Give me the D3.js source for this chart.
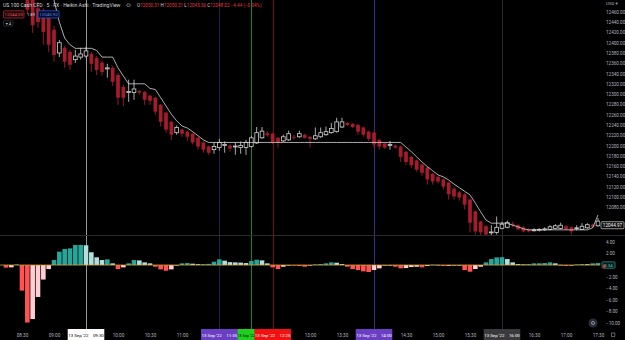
<!DOCTYPE html>
<html>
<head>
<meta charset="utf-8">
<script src="https://cdn.jsdelivr.net/npm/d3@7"></script>
<style>
  html, body { margin: 0; padding: 0; background: #000; }
  svg { display: block; }
  text { font-family: Roboto, "DejaVu Sans", sans-serif; }
</style>
</head>
<body>
<svg id="chart" width="625" height="340"></svg>
<script>
// Heikin Ashi 5 min candles, first one at 08:35
const firstCandle = "08:35";
const candleOpen = [12506, 12491, 12467, 12460, 12448, 12425, 12380, 12390, 12382, 12367, 12372, 12374, 12378, 12370, 12361, 12349, 12351, 12337, 12314, 12304,
  12303, 12306, 12304, 12297, 12293, 12279, 12264, 12246, 12225, 12231, 12227, 12223, 12215, 12206, 12198, 12192, 12196, 12201, 12200, 12198,
  12196, 12196, 12198, 12205, 12215, 12224, 12223, 12215, 12209, 12211, 12217, 12217, 12221, 12217, 12213, 12217, 12221, 12225, 12227, 12236,
  12244, 12242, 12240, 12235, 12227, 12225, 12211, 12204, 12201, 12200, 12198, 12188, 12178, 12171, 12163, 12157, 12145, 12139, 12134, 12128,
  12116, 12109, 12105, 12095, 12072, 12052, 12043, 12031, 12031, 12039, 12041, 12048, 12045, 12041, 12037, 12035, 12036, 12036, 12037, 12039,
  12039, 12043, 12041, 12039, 12037, 12040, 12046, 12044];
const candleHigh = [12512, 12499, 12479, 12467, 12456, 12433, 12405, 12394, 12386, 12386, 12390, 12392, 12382, 12374, 12365, 12359, 12355, 12341, 12318, 12328,
  12328, 12308, 12306, 12299, 12295, 12281, 12266, 12248, 12239, 12233, 12229, 12225, 12217, 12208, 12200, 12206, 12213, 12208, 12202, 12206,
  12208, 12211, 12219, 12236, 12236, 12228, 12225, 12217, 12221, 12229, 12221, 12229, 12223, 12219, 12235, 12235, 12237, 12244, 12254, 12254,
  12246, 12244, 12242, 12237, 12229, 12227, 12213, 12206, 12209, 12202, 12200, 12190, 12180, 12173, 12165, 12159, 12147, 12141, 12136, 12130,
  12118, 12111, 12107, 12097, 12074, 12054, 12045, 12045, 12062, 12052, 12054, 12052, 12047, 12043, 12039, 12039, 12039, 12041, 12045, 12047,
  12050, 12045, 12043, 12045, 12049, 12049, 12048, 12059];
const candleLow = [12456, 12419, 12429, 12396, 12382, 12363, 12372, 12351, 12347, 12361, 12367, 12370, 12343, 12337, 12336, 12332, 12316, 12279, 12277, 12285,
  12289, 12299, 12279, 12279, 12260, 12237, 12225, 12211, 12221, 12217, 12209, 12202, 12192, 12186, 12182, 12184, 12190, 12186, 12188, 12182,
  12184, 12182, 12196, 12203, 12213, 12217, 12203, 12196, 12207, 12209, 12211, 12215, 12213, 12196, 12211, 12215, 12219, 12223, 12225, 12234,
  12238, 12234, 12221, 12217, 12209, 12196, 12192, 12194, 12192, 12194, 12168, 12162, 12157, 12149, 12141, 12124, 12124, 12126, 12114, 12095,
  12095, 12093, 12076, 12031, 12027, 12025, 12022, 12025, 12027, 12037, 12039, 12041, 12035, 12031, 12031, 12033, 12033, 12034, 12035, 12037,
  12037, 12035, 12027, 12035, 12036, 12038, 12040, 12042];
const candleClose = [12464, 12434, 12440, 12421, 12396, 12376, 12400, 12363, 12357, 12374, 12378, 12384, 12359, 12347, 12343, 12351, 12324, 12293, 12293, 12305,
  12310, 12303, 12289, 12287, 12266, 12246, 12231, 12221, 12235, 12223, 12217, 12206, 12198, 12192, 12186, 12198, 12206, 12202, 12194, 12199,
  12200, 12206, 12215, 12225, 12228, 12220, 12207, 12206, 12217, 12223, 12215, 12223, 12215, 12213, 12219, 12225, 12227, 12233, 12246, 12246,
  12240, 12236, 12227, 12221, 12213, 12202, 12198, 12196, 12202, 12196, 12178, 12168, 12162, 12153, 12147, 12134, 12130, 12130, 12120, 12105,
  12101, 12099, 12085, 12050, 12033, 12031, 12027, 12032, 12041, 12047, 12050, 12045, 12037, 12033, 12033, 12036, 12037, 12038, 12042, 12044,
  12045, 12037, 12033, 12040, 12043, 12046, 12042, 12053];

// white trailing line, first point at 08:55
const firstTrail = "08:55";
const trailValues = [12512, 12483, 12440, 12409, 12396, 12389, 12389, 12389, 12389, 12385, 12372, 12372, 12372, 12351, 12335, 12320, 12320, 12320, 12320, 12311,
  12309, 12293, 12277, 12261, 12248, 12238, 12234, 12227, 12219, 12211, 12206, 12206, 12206, 12206, 12206, 12206, 12206, 12206, 12206, 12206,
  12206, 12206, 12206, 12206, 12206, 12206, 12206, 12206, 12206, 12206, 12206, 12206, 12206, 12206, 12206, 12206, 12206, 12206, 12206, 12206,
  12206, 12206, 12206, 12206, 12206, 12206, 12206, 12197, 12188, 12178, 12168, 12159, 12151, 12143, 12139, 12133, 12125, 12118, 12111, 12104,
  12088, 12071, 12055, 12049, 12049, 12049, 12049, 12045, 12042, 12038, 12036, 12036, 12036, 12036, 12036, 12036, 12036, 12036, 12036, 12036,
  12036, 12036, 12040, 12065];

// histogram, first bar at 08:15
const firstHist = "08:15";
const histValues = [-0.45, -0.4, 0.1, -4.4, -9.9, -9.3, -5.5, -2.5, -0.7, 0.86, 2.3, 2.76, 2.87, 3.45, 3.46, 3.4, 2.2, 1.33, 0.86, 0.98,
  0.29, -0.69, -0.4, 0.29, 0.86, 0.8, 0.46, 0.29, -0.29, -0.75, -0.98, -0.75, -0.1, 0.29, 0.34, 0.23, 0.15, 0.16, 0.2, 0.57,
  0.98, 0.75, 0.5, 0.46, 0.42, 0.34, 0.69, 0.92, 0.8, 0.29, -0.4, -0.69, -0.29, -0.04, -0.06, -0.17, -0.29, -0.05, 0.11, 0.17,
  0.29, 0.46, 0.4, 0.17, -0.29, -0.69, -0.86, -1.09, -1.2, -0.86, -0.57, -0.05, -0.03, -0.29, -0.57, -0.52, -0.35, -0.3, -0.4, -0.17,
  0.06, 0.03, -0.17, -0.15, -0.03, -0.02, -0.86, -1.15, -0.69, -0.29, 0.46, 1.03, 1.32, 1.35, 1.03, 0.46, 0.17, 0.11, 0.17, 0.29,
  0.3, 0.34, 0.46, 0.29, 0.03, -0.17, -0.03, 0.11, 0.17, 0.15, 0.29, 0.34];

const priceTicks = [12460, 12440, 12420, 12400, 12380, 12360, 12340, 12320, 12300, 12280, 12260, 12240, 12220, 12200, 12180, 12160, 12140, 12120, 12100, 12080];
const histTicks = [4, 2, -2, -4, -6, -8, -10];
const timeTicks = ["08:30", "09:00", "10:00", "10:30", "11:00", "13:00", "13:30", "14:30", "15:00", "15:30", "16:30", "17:00", "17:30"];
const markerTimes = ["12:05", "09:30", "11:35", "12:25", "14:00", "16:00"];
const markerDate = "13 Sep '22";
const lastPrice = 12044.97;
const lastHist = 0.34;
const symbolTitle = "US 100 Cash CFD · 5 · FX · Heikin Ashi · TradingView";
const legendOHLC = [["O", "12050.31"], ["H", "12050.31"], ["L", "12045.56"], ["C", "12048.02"]];
const legendChange = "−4.44 (−0.04%)";
const sellPrice = "12044.03";
const buyPrice = "12045.92";
const spread = "1.89";

// marker styles; the 12:05 box sits under its neighbours, only the date shows
const markerStyle = {
  "09:30": { line: "#9a9a9a", box: "#ffffff", text: "#000000" },
  "11:35": { line: "#231d4a", box: "#6b3fc4", text: "#ffffff" },
  "12:05": { line: "#0b8f12", box: "#1fd11f", text: "#000000", covered: ["11:35", "12:25"] },
  "12:25": { line: "#7d0b0b", box: "#f21010", text: "#ffffff" },
  "14:00": { line: "#3f2a86", box: "#6b3fc4", text: "#ffffff" },
  "16:00": { line: "#2b2b2b", box: "#3a3a3d", text: "#ffffff" }
};

function drawChart() {
  const svg = d3.select("#chart");
  const width = +svg.attr("width");
  const height = +svg.attr("height");
  const axisX = 604;
  const boxHalf = 18.3;

  const parseTime = d3.timeParse("%H:%M");
  const barTime = (start, k) => d3.timeMinute.offset(parseTime(start), 5 * k);
  const hm = d3.timeFormat("%H:%M");

  const x = d3.scaleTime()
    .domain([parseTime("08:10"), parseTime("17:30")])
    .range([0.67, 598]);
  const y = d3.scaleLinear().domain([12026, 12483]).range([235, 0]);
  const yh = d3.scaleLinear().domain([-10.5, 5]).range([326, 236]);

  const candles = candleOpen.map((o, k) => ({
    time: barTime(firstCandle, k),
    open: o, high: candleHigh[k], low: candleLow[k], close: candleClose[k]
  }));
  const trail = trailValues.map((v, k) => ({ time: barTime(firstTrail, k), value: v }));
  const hist = histValues.map((v, k) => ({
    time: barTime(firstHist, k),
    value: v,
    prev: k > 0 ? histValues[k - 1] : 0
  }));

  svg.append("rect").attr("width", width).attr("height", height).attr("fill", "#000");

  // --- Vertical session lines ---
  svg.append("g")
    .selectAll("line")
    .data(markerTimes)
    .enter()
    .append("line")
    .attr("x1", d => Math.round(x(parseTime(d))) + 0.5)
    .attr("x2", d => Math.round(x(parseTime(d))) + 0.5)
    .attr("y1", 0)
    .attr("y2", 329)
    .attr("stroke", d => markerStyle[d].line)
    .attr("stroke-width", 1);

  // --- Histogram pane ---
  const histColor = d => d.value >= 0
    ? (d.value >= d.prev ? "#26a69a" : "#b2dfdb")
    : (d.value <= d.prev ? "#ff5252" : "#ffcdd2");

  svg.append("g")
    .selectAll("rect")
    .data(hist)
    .enter()
    .append("rect")
    .attr("x", d => x(d.time) - 2.3)
    .attr("width", 4.6)
    .attr("y", d => Math.min(yh(d.value), yh(0)))
    .attr("height", d => Math.max(0.6, Math.abs(yh(d.value) - yh(0))))
    .attr("fill", histColor);

  svg.append("line")
    .attr("x1", 0).attr("x2", 600)
    .attr("y1", yh(0)).attr("y2", yh(0))
    .attr("stroke", "#d9a33a")
    .attr("stroke-width", 0.8);

  // --- Price pane ---
  svg.append("clipPath").attr("id", "price-clip")
    .append("rect").attr("x", 0).attr("y", 0).attr("width", 600).attr("height", 235);

  const pricePane = svg.append("g").attr("clip-path", "url(#price-clip)");
  const redCandle = "#a51d2d";
  const upStroke = "#d2d2d2";

  const candleG = pricePane.selectAll("g.candle")
    .data(candles)
    .enter()
    .append("g")
    .attr("class", "candle");

  candleG.append("line")
    .attr("x1", d => x(d.time))
    .attr("x2", d => x(d.time))
    .attr("y1", d => y(d.high))
    .attr("y2", d => y(d.low))
    .attr("stroke", d => d.close < d.open ? redCandle : "#bdbdbd")
    .attr("stroke-width", 0.9);

  candleG.append("rect")
    .attr("x", d => x(d.time) - 1.85)
    .attr("width", 3.7)
    .attr("y", d => y(Math.max(d.open, d.close)))
    .attr("height", d => Math.max(0.9, Math.abs(y(d.open) - y(d.close))))
    .attr("fill", d => d.close < d.open ? redCandle : "#000")
    .attr("stroke", d => d.close < d.open ? "none" : upStroke)
    .attr("stroke-width", 0.8);

  const trailLine = d3.line()
    .x(d => x(d.time))
    .y(d => y(d.value));

  pricePane.append("path")
    .datum(trail)
    .attr("fill", "none")
    .attr("stroke", "#d8d8d8")
    .attr("stroke-width", 0.8)
    .attr("d", trailLine);

  // pane separator
  svg.append("line")
    .attr("x1", 0).attr("x2", width)
    .attr("y1", 235.5).attr("y2", 235.5)
    .attr("stroke", "#2a2a2a");

  // --- Right axes ---
  const priceAxis = d3.axisRight(y)
    .tickValues(priceTicks)
    .tickSize(0)
    .tickPadding(0)
    .tickFormat(d3.format(".2f"));

  const priceAxisG = svg.append("g")
    .attr("transform", `translate(${axisX},0)`)
    .call(priceAxis);
  priceAxisG.select(".domain").remove();
  priceAxisG.selectAll("text")
    .attr("x", 2)
    .attr("fill", "#b2b5be")
    .style("font-size", "4.6px");

  const histAxis = d3.axisRight(yh)
    .tickValues(histTicks)
    .tickSize(0)
    .tickPadding(0)
    .tickFormat(d3.format(".2f"));

  const histAxisG = svg.append("g")
    .attr("transform", `translate(${axisX},0)`)
    .call(histAxis);
  histAxisG.select(".domain").remove();
  histAxisG.selectAll("text")
    .attr("x", 2)
    .attr("fill", "#b2b5be")
    .style("font-size", "4.6px");

  svg.append("text")
    .attr("x", axisX + 2).attr("y", 5)
    .attr("fill", "#b2b5be")
    .style("font-size", "4.4px")
    .text("USD ▾");

  // last price label
  svg.append("rect")
    .attr("x", 601).attr("y", y(lastPrice) - 3.5)
    .attr("width", 23).attr("height", 7)
    .attr("fill", "#0c0c0c")
    .attr("stroke", "#cfcfcf")
    .attr("stroke-width", 0.7)
    .attr("rx", 1);
  svg.append("text")
    .attr("x", 612.5).attr("y", y(lastPrice) + 1.6)
    .attr("text-anchor", "middle")
    .attr("fill", "#ffffff")
    .style("font-size", "4.6px")
    .text(d3.format(".2f")(lastPrice));

  // last histogram label
  svg.append("rect")
    .attr("x", 602).attr("y", yh(0) - 3.2)
    .attr("width", 13).attr("height", 6.4)
    .attr("fill", "#041a18")
    .attr("stroke", "#26a69a")
    .attr("stroke-width", 0.7)
    .attr("rx", 1);
  svg.append("text")
    .attr("x", 608.5).attr("y", yh(0) + 1.6)
    .attr("text-anchor", "middle")
    .attr("fill", "#4fd1c5")
    .style("font-size", "4.4px")
    .text(d3.format(".2f")(lastHist));
  svg.append("rect")
    .attr("x", 603.2).attr("y", yh(0) - 0.4)
    .attr("width", 2.2).attr("height", 3)
    .attr("fill", "#ff3b3b");

  // --- Time axis ---
  const timeAxis = d3.axisBottom(x)
    .tickValues(timeTicks.map(parseTime))
    .tickSize(0)
    .tickPadding(0)
    .tickFormat(hm);

  const timeAxisG = svg.append("g")
    .attr("transform", "translate(0,329)")
    .call(timeAxis);
  timeAxisG.select(".domain").remove();
  timeAxisG.selectAll("text")
    .attr("y", 7.6)
    .attr("dy", null)
    .attr("fill", "#b2b5be")
    .style("font-size", "4.6px");

  const markerG = svg.append("g")
    .selectAll("g")
    .data(markerTimes)
    .enter()
    .append("g")
    .attr("transform", d => `translate(${x(parseTime(d))},329)`);

  markerG.append("rect")
    .attr("x", -boxHalf).attr("y", 0)
    .attr("width", boxHalf * 2).attr("height", 11)
    .attr("fill", d => markerStyle[d].box);

  // a covered box only shows the part between its neighbours
  const labelX = d => {
    const cov = markerStyle[d].covered;
    if (!cov) return 0;
    const left = x(parseTime(cov[0])) + boxHalf;
    const right = x(parseTime(cov[1])) - boxHalf;
    return (left + right) / 2 - x(parseTime(d));
  };

  markerG.append("text")
    .attr("x", labelX)
    .attr("y", 7.6)
    .attr("text-anchor", "middle")
    .attr("fill", d => markerStyle[d].text)
    .style("font-size", d => markerStyle[d].covered ? "3.9px" : "4.4px")
    .text(d => markerStyle[d].covered ? markerDate : `${markerDate}\u2003${d}`);

  // bottom-right buttons
  svg.append("circle").attr("cx", 593).attr("cy", 323).attr("r", 4.5).attr("fill", "#2a2e39");
  svg.append("circle").attr("cx", 593).attr("cy", 323).attr("r", 1.5)
    .attr("fill", "none").attr("stroke", "#b2b5be").attr("stroke-width", 0.7);
  svg.append("rect").attr("x", 611.5).attr("y", 333).attr("width", 3.4).attr("height", 3.4)
    .attr("fill", "none").attr("stroke", "#9598a1").attr("stroke-width", 0.6);

  // --- Header legend ---
  const header = svg.append("g");
  header.append("text")
    .attr("x", 3).attr("y", 6.8)
    .attr("fill", "#d1d4dc")
    .style("font-size", "5.1px")
    .text(symbolTitle);

  header.append("ellipse")
    .attr("cx", 128.5).attr("cy", 5.2).attr("rx", 2).attr("ry", 1.3)
    .attr("fill", "none").attr("stroke", "#b2b5be").attr("stroke-width", 0.6);

  const ohlc = header.append("text")
    .attr("x", 137).attr("y", 6.8)
    .style("font-size", "4.6px");
  legendOHLC.forEach(([k, v]) => {
    ohlc.append("tspan").attr("fill", "#d1d4dc").text(k);
    ohlc.append("tspan").attr("fill", "#e0363f").text(v + " ");
  });
  ohlc.append("tspan").attr("fill", "#e0363f").text(legendChange);

  header.append("rect")
    .attr("x", 3.5).attr("y", 10.8).attr("width", 20.5).attr("height", 7.2)
    .attr("fill", "#1a0608").attr("stroke", "#c42a36").attr("stroke-width", 0.7).attr("rx", 1);
  header.append("text")
    .attr("x", 13.75).attr("y", 15.9)
    .attr("text-anchor", "middle")
    .attr("fill", "#f0545e")
    .style("font-size", "4.4px")
    .text(sellPrice);
  header.append("text")
    .attr("x", 31).attr("y", 15.9)
    .attr("text-anchor", "middle")
    .attr("fill", "#d1d4dc")
    .style("font-size", "4.2px")
    .text(spread);
  header.append("rect")
    .attr("x", 38).attr("y", 10.8).attr("width", 21).attr("height", 7.2)
    .attr("fill", "#060c1c").attr("stroke", "#2962ff").attr("stroke-width", 0.7).attr("rx", 1);
  header.append("text")
    .attr("x", 48.5).attr("y", 15.9)
    .attr("text-anchor", "middle")
    .attr("fill", "#5b8cff")
    .style("font-size", "4.4px")
    .text(buyPrice);

  header.append("rect")
    .attr("x", 3.5).attr("y", 20.8).attr("width", 9.5).attr("height", 5.2)
    .attr("fill", "#000").attr("stroke", "#434651").attr("stroke-width", 0.6).attr("rx", 1);
  header.append("text")
    .attr("x", 8.25).attr("y", 24.6)
    .attr("text-anchor", "middle")
    .attr("fill", "#d1d4dc")
    .style("font-size", "4px")
    .text("▾ 4");
}

drawChart();
</script>
</body>
</html>
